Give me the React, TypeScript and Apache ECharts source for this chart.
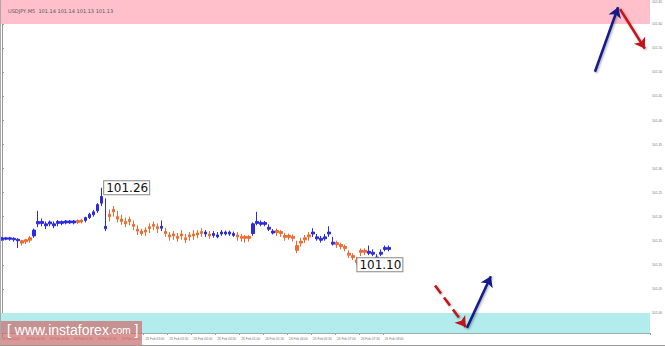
import React, { useEffect, useRef } from "react";
import * as echarts from "echarts";

// bars: [open, close, low, high]
const bars: number[][] = [
  [101.152, 101.156, 101.150, 101.158],
  [101.153, 101.156, 101.151, 101.158],
  [101.153, 101.156, 101.150, 101.158],
  [101.152, 101.155, 101.148, 101.157],
  [101.150, 101.153, 101.135, 101.155],
  [101.150, 101.145, 101.140, 101.152],
  [101.152, 101.148, 101.143, 101.154],
  [101.156, 101.151, 101.146, 101.160],
  [101.160, 101.172, 101.156, 101.175],
  [101.185, 101.190, 101.178, 101.212],
  [101.186, 101.190, 101.180, 101.196],
  [101.181, 101.185, 101.174, 101.190],
  [101.185, 101.189, 101.180, 101.192],
  [101.181, 101.185, 101.176, 101.190],
  [101.186, 101.190, 101.180, 101.193],
  [101.186, 101.190, 101.182, 101.192],
  [101.187, 101.191, 101.184, 101.193],
  [101.187, 101.191, 101.185, 101.193],
  [101.187, 101.191, 101.184, 101.193],
  [101.192, 101.188, 101.185, 101.194],
  [101.193, 101.189, 101.186, 101.195],
  [101.192, 101.198, 101.188, 101.200],
  [101.198, 101.205, 101.195, 101.208],
  [101.204, 101.210, 101.200, 101.214],
  [101.212, 101.225, 101.208, 101.228],
  [101.228, 101.242, 101.222, 101.260],
  [101.175, 101.180, 101.170, 101.238],
  [101.205, 101.200, 101.190, 101.215],
  [101.215, 101.210, 101.200, 101.222],
  [101.200, 101.195, 101.188, 101.212],
  [101.195, 101.190, 101.183, 101.204],
  [101.190, 101.185, 101.178, 101.198],
  [101.194, 101.190, 101.182, 101.200],
  [101.184, 101.180, 101.172, 101.192],
  [101.174, 101.170, 101.162, 101.182],
  [101.170, 101.165, 101.160, 101.175],
  [101.172, 101.168, 101.160, 101.178],
  [101.179, 101.175, 101.166, 101.186],
  [101.184, 101.180, 101.172, 101.190],
  [101.179, 101.175, 101.166, 101.186],
  [101.176, 101.180, 101.170, 101.192],
  [101.169, 101.165, 101.158, 101.176],
  [101.162, 101.158, 101.150, 101.168],
  [101.164, 101.160, 101.152, 101.170],
  [101.159, 101.155, 101.148, 101.166],
  [101.164, 101.160, 101.152, 101.172],
  [101.156, 101.152, 101.145, 101.164],
  [101.162, 101.158, 101.150, 101.168],
  [101.164, 101.160, 101.152, 101.172],
  [101.166, 101.162, 101.155, 101.172],
  [101.169, 101.165, 101.158, 101.176],
  [101.164, 101.168, 101.158, 101.172],
  [101.164, 101.160, 101.154, 101.170],
  [101.161, 101.165, 101.156, 101.170],
  [101.158, 101.162, 101.155, 101.168],
  [101.164, 101.168, 101.160, 101.172],
  [101.164, 101.168, 101.161, 101.171],
  [101.164, 101.168, 101.160, 101.171],
  [101.161, 101.165, 101.158, 101.169],
  [101.162, 101.158, 101.150, 101.168],
  [101.159, 101.155, 101.148, 101.164],
  [101.159, 101.155, 101.146, 101.162],
  [101.159, 101.155, 101.148, 101.162],
  [101.165, 101.185, 101.160, 101.188],
  [101.186, 101.190, 101.182, 101.210],
  [101.184, 101.188, 101.180, 101.192],
  [101.184, 101.188, 101.180, 101.191],
  [101.174, 101.178, 101.170, 101.184],
  [101.166, 101.170, 101.163, 101.174],
  [101.171, 101.167, 101.160, 101.175],
  [101.169, 101.165, 101.158, 101.172],
  [101.161, 101.157, 101.150, 101.166],
  [101.161, 101.157, 101.152, 101.165],
  [101.159, 101.155, 101.148, 101.163],
  [101.140, 101.130, 101.124, 101.150],
  [101.149, 101.145, 101.138, 101.156],
  [101.156, 101.152, 101.145, 101.162],
  [101.162, 101.158, 101.150, 101.168],
  [101.164, 101.168, 101.158, 101.176],
  [101.154, 101.158, 101.150, 101.164],
  [101.151, 101.155, 101.146, 101.160],
  [101.154, 101.158, 101.150, 101.164],
  [101.164, 101.168, 101.158, 101.180],
  [101.143, 101.147, 101.140, 101.158],
  [101.146, 101.142, 101.135, 101.150],
  [101.142, 101.138, 101.132, 101.146],
  [101.138, 101.134, 101.128, 101.142],
  [101.124, 101.120, 101.114, 101.130],
  [101.119, 101.115, 101.110, 101.124],
  [101.110, 101.105, 101.100, 101.116],
  [101.130, 101.126, 101.118, 101.134],
  [101.130, 101.126, 101.120, 101.134],
  [101.124, 101.128, 101.120, 101.140],
  [101.122, 101.126, 101.118, 101.132],
  [101.112, 101.116, 101.108, 101.122],
  [101.122, 101.126, 101.118, 101.132],
  [101.132, 101.136, 101.128, 101.140],
  [101.132, 101.136, 101.128, 101.140],
];

const xLabels: string[] = [
  "26 Feb 2014", "26 Feb 00:30", "26 Feb 01:00", "26 Feb 01:30", "26 Feb 02:00",
  "26 Feb 02:30", "26 Feb 03:00", "26 Feb 03:30", "26 Feb 04:00", "26 Feb 04:30",
  "26 Feb 05:00", "26 Feb 05:30", "26 Feb 06:00", "26 Feb 06:30", "26 Feb 07:00",
  "26 Feb 07:30", "26 Feb 08:00",
];
const labelStep = 6;
const slotCount = 163;

const title = "USDJPY,M5  101.14 101.14 101.13 101.13";
const currentPrice = 101.132;
const resistanceZone = [101.6, 101.66];
const supportZone = [101.0, 100.958];
const highLabel = { index: 25, price: 101.26, text: "101.26" };
const lowLabel = { index: 89, price: 101.1, text: "101.10" };

// arrows: [x1 (bar index), price1, x2, price2]
const blueArrows: number[][] = [
  [148.7, 101.501, 154.5, 101.635],
  [116.6, 100.969, 122.6, 101.076],
];
const redArrowSolid: number[][] = [[155.0, 101.631, 161.2, 101.549]];
const redArrowDashed: number[][] = [[108.6, 101.057, 116.3, 100.971]];

const BLUE = "#2b2be0";
const ORANGE = "#f26a2e";

export default function App() {
  const ref = useRef<HTMLDivElement>(null);
  useEffect(() => {
    if (!ref.current) return;
    const chart = echarts.init(ref.current, null, { renderer: "svg" });
    const cats = Array.from({ length: slotCount }, (_, i) => "b" + i);
    const arrowData = (arr: number[][]) =>
      arr.map((a) => ({ coords: [[a[0], a[1]], [a[2], a[3]]] }));
    const shadow = {
      shadowBlur: 2,
      shadowColor: "rgba(0,0,0,0.35)",
      shadowOffsetX: 1,
      shadowOffsetY: 1,
    };
    chart.setOption({
      animation: false,
      backgroundColor: "#fff",
      title: {
        text: title,
        left: 3,
        top: 3,
        textStyle: { fontSize: 5, color: "#555", fontWeight: "normal", fontFamily: "DejaVu Sans" },
      },
      grid: { left: 0, right: 15, top: 0, bottom: 9, containLabel: false, outerBoundsMode: "none" },
      xAxis: [
        {
          type: "category",
          data: cats,
          offset: -4,
          boundaryGap: true,
          axisLine: { show: true, lineStyle: { color: "#999", width: 1 } },
          axisTick: {
            show: true,
            length: 2,
            lineStyle: { color: "#999" },
            interval: (i: number) => i % labelStep === 0 && i / labelStep < xLabels.length,
          },
          axisLabel: {
            interval: 0,
            fontSize: 3.2,
            color: "#777",
            align: "left",
            margin: 4,
            hideOverlap: false,
            fontFamily: "Liberation Sans",
            formatter: (_v: string, i: number) =>
              i % labelStep === 0 && i / labelStep < xLabels.length ? xLabels[i / labelStep] : "",
          },
          splitLine: { show: false },
        },
        { type: "value", min: -0.5, max: slotCount - 0.5, show: false },
      ],
      yAxis: {
        type: "value",
        position: "right",
        min: 100.95,
        max: 101.65,
        interval: 0.05,
        scale: true,
        axisLine: { show: true, lineStyle: { color: "#999" } },
        axisTick: { show: true, length: 2, lineStyle: { color: "#999" } },
        axisLabel: {
          fontSize: 3.3,
          color: "#777",
          margin: 2,
          showMinLabel: false,
          verticalAlignMaxLabel: "top",
          fontFamily: "Liberation Sans",
          formatter: (v: number) => v.toFixed(2),
        },
        splitLine: { show: false },
      },
      series: [
        {
          type: "candlestick",
          xAxisIndex: 0,
          data: bars,
          barWidth: 3,
          itemStyle: {
            color: BLUE,
            color0: ORANGE,
            borderColor: BLUE,
            borderColor0: ORANGE,
            borderWidth: 1,
          },
          markArea: {
            silent: true,
            data: [
              [
                { yAxis: resistanceZone[0], itemStyle: { color: "#ffc0cb" } },
                { yAxis: resistanceZone[1] },
              ],
              [
                { yAxis: supportZone[0], itemStyle: { color: "#b2ecec" } },
                { yAxis: supportZone[1] },
              ],
            ],
          },
          markPoint: {
            symbol: "rect",
            symbolSize: 1,
            itemStyle: { color: "rgba(0,0,0,0)" },
            label: {
              show: true,
              position: "right",
              distance: 2,
              formatter: "{b}",
              backgroundColor: "#fff",
              borderColor: "#888",
              borderWidth: 1,
              padding: [1, 1, 0, 2],
              fontSize: 12,
              color: "#111",
              fontFamily: "DejaVu Sans",
            },
            data: [
              { name: highLabel.text, coord: [highLabel.index, highLabel.price] },
              { name: lowLabel.text, coord: [lowLabel.index, lowLabel.price], label: { distance: 0 } },
            ],
          },
          markLine: {
            silent: true,
            symbol: "none",
            lineStyle: { opacity: 0 },
            label: {
              show: true,
              position: "end",
              distance: 1,
              formatter: currentPrice.toFixed(2),
              backgroundColor: "#666",
              color: "#fff",
              fontSize: 3.3,
              padding: [1, 1],
              fontFamily: "Liberation Sans",
            },
            data: [{ yAxis: currentPrice }],
          },
        },
        {
          type: "lines",
          coordinateSystem: "cartesian2d",
          xAxisIndex: 1,
          yAxisIndex: 0,
          symbol: ["none", "arrow"],
          symbolSize: 10,
          lineStyle: { color: "#141a8a", width: 2.5, opacity: 1, ...shadow },
          data: arrowData(blueArrows),
          z: 5,
        },
        {
          type: "lines",
          coordinateSystem: "cartesian2d",
          xAxisIndex: 1,
          yAxisIndex: 0,
          symbol: ["none", "arrow"],
          symbolSize: 10,
          lineStyle: { color: "#c0141a", width: 2.5, opacity: 1, ...shadow },
          data: arrowData(redArrowSolid),
          z: 5,
        },
        {
          type: "lines",
          coordinateSystem: "cartesian2d",
          xAxisIndex: 1,
          yAxisIndex: 0,
          symbol: ["none", "arrow"],
          symbolSize: 10,
          lineStyle: { color: "#c0141a", width: 2.5, type: "dashed", opacity: 1, ...shadow },
          data: arrowData(redArrowDashed),
          z: 5,
        },
      ],
      graphic: [
        {
          type: "rect",
          left: 0,
          top: 321,
          shape: { width: 142, height: 25 },
          style: { fill: "rgba(205,110,110,0.72)" },
          z: 10,
        },
        {
          type: "text",
          left: 7,
          top: 323,
          style: {
            text: "[ {a|www.instaforex}{b|.com} ]",
            fill: "#fff",
            fontSize: 14,
            fontFamily: "Liberation Sans",
            rich: {
              a: { fontSize: 14, fill: "#fff", fontFamily: "Liberation Sans" },
              b: { fontSize: 10, fill: "#fff", fontFamily: "Liberation Sans" },
            },
          },
          z: 11,
        },
        {
          type: "line",
          shape: { x1: 0.5, y1: 0, x2: 0.5, y2: 346 },
          style: { stroke: "#aaa", lineWidth: 1 },
          z: 12,
          silent: true,
        },
        {
          type: "line",
          shape: { x1: 0, y1: 345.5, x2: 665, y2: 345.5 },
          style: { stroke: "#999", lineWidth: 1 },
          z: 12,
          silent: true,
        },
      ],
    });
    return () => chart.dispose();
  }, []);
  return (
    <div
      ref={ref}
      style={{ position: "fixed", left: 0, top: 0, width: 665, height: 346 }}
    />
  );
}
